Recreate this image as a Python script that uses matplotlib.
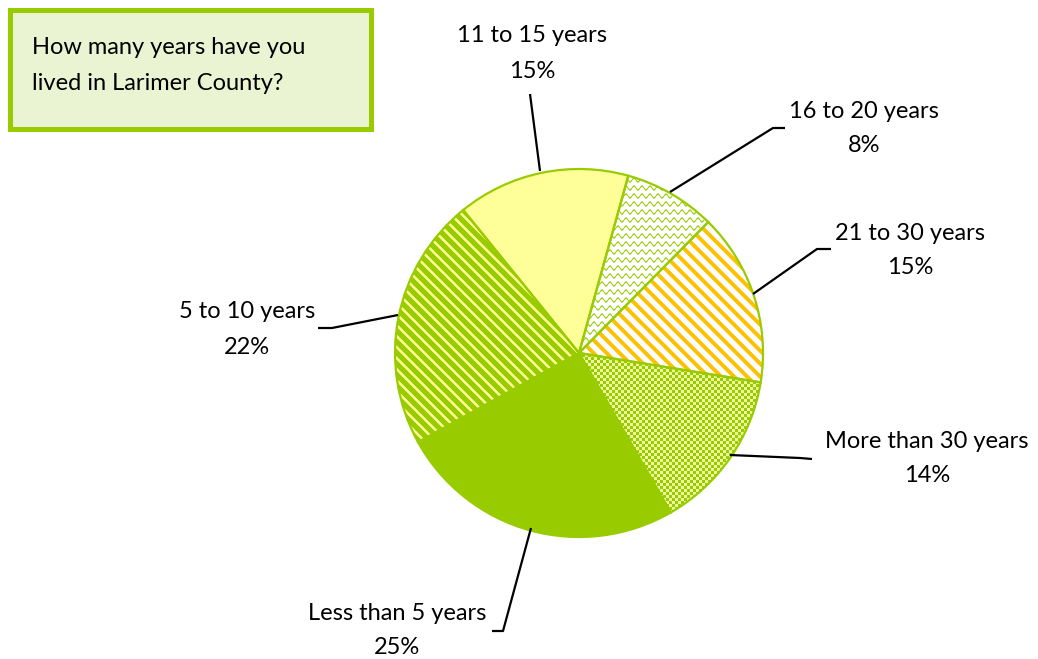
import numpy as np
import matplotlib
matplotlib.use("Agg")
import matplotlib.pyplot as plt
from matplotlib.colors import to_rgba
from matplotlib.patches import Rectangle

W, H = 1038, 659

labels = ["11 to 15 years", "16 to 20 years", "21 to 30 years",
          "More than 30 years", "Less than 5 years", "5 to 10 years"]
shares = [15, 8, 15, 14, 25, 22]

GREEN = "#99CC00"
YELLOW = "#FFFF99"
ORANGE = "#FFC000"
FONT = "Lato"
FS = 17

# label centres (screen px, first line) and leader lines
label_pos = [(532, 36), (864, 111), (910, 233), (927, 441), (397, 613), (247, 312)]
leaders = [
    [(530, 94), (540, 171)],
    [(785, 128), (773, 128), (670, 192)],
    [(831, 249), (817, 249), (753, 294)],
    [(812, 459), (800, 458), (730, 455)],
    [(492, 631), (503, 631), (531, 528)],
    [(318, 328), (332, 328), (398, 315)],
]


def sy(y):
    # screen y (from top) -> axes y
    return H - y


yy, xx = np.mgrid[0:H, 0:W] + 0.5


def texture(weight, fg, bg):
    # blend fg over bg with weight in [0, 1]
    w = np.clip(weight, 0, 1)[..., None]
    return w * np.array(to_rgba(fg)) + (1 - w) * np.array(to_rgba(bg))


def band(u, period, width):
    # soft band of given width, repeating every `period`
    r = np.abs(np.mod(u, period) - period / 2)
    return width / 2 + 0.5 - r


patterns = {
    1: texture(band(yy + 1.8 * np.sin(2 * np.pi * xx / 8.0), 8.0, 1.8), "#9FCF1A", "white"),
    2: texture(band(xx - yy, 13, 5.5), ORANGE, "white"),
    3: texture((np.mod(xx // 3 + yy // 3, 2) == 0).astype(float), GREEN, "#EEF9A0"),
    5: texture(band(xx - yy, 11, 3.5), YELLOW, GREEN),
}

fig = plt.figure(figsize=(W / 100, H / 100), dpi=100)
ax = fig.add_axes([0, 0, 1, 1])

center = (579, sy(353))
radius = 184
fills = [YELLOW, "white", "white", YELLOW, GREEN, GREEN]
wedges, _ = ax.pie(shares, colors=fills, startangle=129, counterclock=False,
                   center=center, radius=radius,
                   wedgeprops=dict(edgecolor="none", linewidth=0))
for i, img in patterns.items():
    im = ax.imshow(img, extent=(0, W, 0, H), origin="upper",
                   interpolation="nearest", zorder=2)
    im.set_clip_path(wedges[i])

outline, _ = ax.pie(shares, colors=["none"] * len(shares), startangle=129,
                    counterclock=False, center=center, radius=radius,
                    wedgeprops=dict(edgecolor=GREEN, linewidth=1.6))
for w in outline:
    w.set_facecolor("none")
    w.set_zorder(3)

for (x, y), name, v, line in zip(label_pos, labels, shares, leaders):
    ax.text(x, sy(y), name, ha="center", va="center", fontsize=FS, family=FONT)
    ax.text(x, sy(y + 35), f"{v}%", ha="center", va="center", fontsize=FS, family=FONT)
    ax.plot([p[0] for p in line], [sy(p[1]) for p in line], color="black",
            lw=1.6, solid_capstyle="butt", zorder=4)

# question box
ax.add_patch(Rectangle((10, sy(129)), 361, 119, facecolor="#EAF4D2",
                       edgecolor=GREEN, linewidth=3.6, zorder=5))
ax.text(32, sy(48), "How many years have you", ha="left", va="center",
        fontsize=FS, family=FONT, zorder=6)
ax.text(32, sy(83), "lived in Larimer County?", ha="left", va="center",
        fontsize=FS, family=FONT, zorder=6)

ax.set_xlim(0, W)
ax.set_ylim(0, H)
ax.set_aspect("auto")
ax.axis("off")

fig.savefig("out.png", dpi=100, facecolor="white")
